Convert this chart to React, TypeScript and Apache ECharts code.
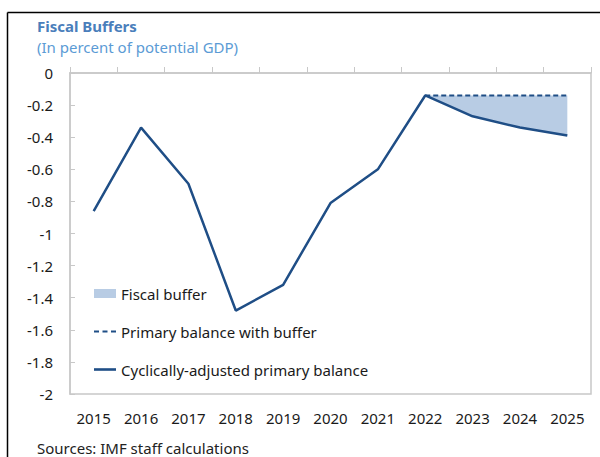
import React, { useEffect, useRef } from "react";
import * as echarts from "echarts";

const years = ["2015", "2016", "2017", "2018", "2019", "2020", "2021", "2022", "2023", "2024", "2025"];
const cyclicallyAdjusted = [-0.86, -0.34, -0.69, -1.48, -1.32, -0.81, -0.6, -0.14, -0.27, -0.34, -0.39];
const withBuffer = [null, null, null, null, null, null, null, -0.14, -0.14, -0.14, -0.14];

const NAVY = "#1f4e86";
const FILL = "#b8cce4";
const FONT = "'Noto Sans', 'Open Sans', sans-serif";

export default function App() {
  const ref = useRef<HTMLDivElement>(null);
  useEffect(() => {
    if (!ref.current) return;
    const chart = echarts.init(ref.current, null, { renderer: "svg" });
    const base = withBuffer.map((v, i) => (v === null ? null : cyclicallyAdjusted[i]));
    const diff = withBuffer.map((v, i) => (v === null ? null : +(v - cyclicallyAdjusted[i]).toFixed(4)));
    chart.setOption({
      animation: false,
      textStyle: { fontFamily: FONT },
      graphic: [
        { type: "line", shape: { x1: 7.5, y1: 12.5, x2: 600, y2: 12.5 }, style: { stroke: "#000", lineWidth: 1.5 } },
        { type: "line", shape: { x1: 7.5, y1: 12.5, x2: 7.5, y2: 457 }, style: { stroke: "#000", lineWidth: 1.5 } },
        { type: "text", left: 37, top: 18, style: { text: "Fiscal Buffers", font: `bold 15px ${FONT}`, fill: "#4a7ebb" } },
        { type: "text", left: 37, top: 39, style: { text: "(In percent of potential GDP)", font: `15px ${FONT}`, fill: "#5b9bd5" } },
        { type: "text", left: 37, top: 440, style: { text: "Sources: IMF staff calculations", font: `15px ${FONT}`, fill: "#222" } },
      ],
      grid: { left: 70, right: 9, top: 73, bottom: 63, show: true, borderColor: "#c8c8c8", borderWidth: 1.5 },
      legend: {
        orient: "vertical",
        left: 94,
        top: 286,
        padding: 0,
        itemWidth: 22,
        itemHeight: 12,
        itemGap: 23,
        textStyle: { fontSize: 15, color: "#1a1a1a", fontFamily: FONT },
        data: [
          { name: "Fiscal buffer", icon: "path://M0,0h22v9h-22z", itemStyle: { color: FILL } },
          {
            name: "Primary balance with buffer",
            icon: "path://M0,0h5v2.2h-5z M8.5,0h5v2.2h-5z M17,0h5v2.2h-5z",
            itemStyle: { color: NAVY },
          },
          { name: "Cyclically-adjusted primary balance", icon: "path://M0,0h22v2.6h-22z", itemStyle: { color: NAVY } },
        ],
      },
      xAxis: [
        {
          type: "category",
          data: years,
          position: "bottom",
          boundaryGap: true,
          axisLine: { show: false },
          axisTick: { show: false },
          axisLabel: { interval: 0, fontSize: 15, color: "#1a1a1a", margin: 16, fontFamily: FONT },
        },
        {
          type: "category",
          data: years,
          position: "top",
          boundaryGap: true,
          axisLine: { show: true, lineStyle: { color: "#c8c8c8", width: 1.5 } },
          axisTick: { show: true, inside: false, length: 6, interval: 0, lineStyle: { color: "#c8c8c8" } },
          axisLabel: { show: false },
        },
      ],
      yAxis: {
        type: "value",
        min: -2,
        max: 0,
        interval: 0.2,
        axisLine: { show: true, lineStyle: { color: "#c8c8c8", width: 1.5 } },
        axisTick: { show: true, inside: true, length: 5, lineStyle: { color: "#c8c8c8" } },
        splitLine: { show: false },
        axisLabel: { fontSize: 15, color: "#1a1a1a", margin: 17, fontFamily: FONT },
      },
      series: [
        {
          name: "base",
          type: "line",
          data: base,
          stack: "buf",
          stackStrategy: "all",
          symbol: "none",
          lineStyle: { opacity: 0 },
          silent: true,
        },
        {
          name: "Fiscal buffer",
          type: "line",
          data: diff,
          stack: "buf",
          stackStrategy: "all",
          symbol: "none",
          lineStyle: { opacity: 0 },
          itemStyle: { color: FILL },
          areaStyle: { color: FILL, opacity: 1 },
        },
        {
          name: "Primary balance with buffer",
          type: "line",
          data: withBuffer,
          symbol: "none",
          itemStyle: { color: NAVY },
          lineStyle: { color: NAVY, width: 2, type: [5, 3] },
        },
        {
          name: "Cyclically-adjusted primary balance",
          type: "line",
          data: cyclicallyAdjusted,
          symbol: "none",
          itemStyle: { color: NAVY },
          lineStyle: { color: NAVY, width: 2.5 },
        },
      ],
    });
    return () => chart.dispose();
  }, []);
  return <div ref={ref} style={{ width: 600, height: 457, position: "absolute", left: 0, top: 0 }} />;
}
